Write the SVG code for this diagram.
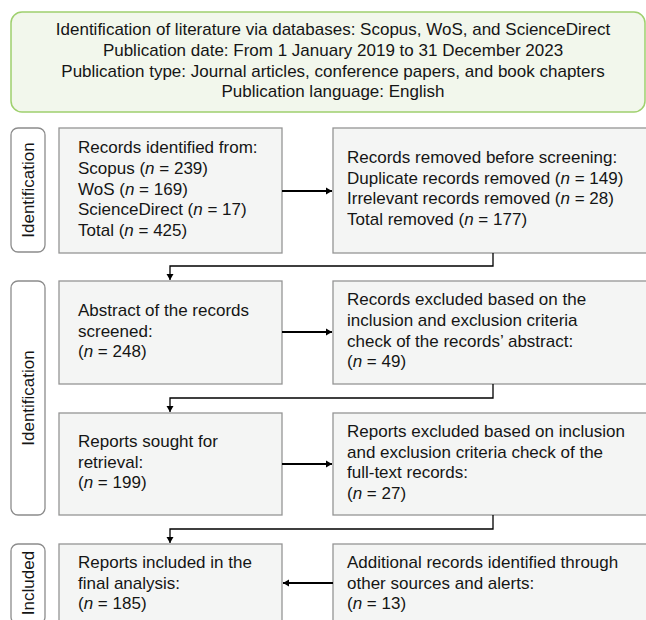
<svg xmlns="http://www.w3.org/2000/svg" width="646" height="620" viewBox="0 0 646 620">
<defs>
<style>
text{font-family:"Liberation Sans",Arial,sans-serif;font-size:17px;fill:#151515}
.c{text-anchor:middle}
.hdr{fill:#f2f7ec;stroke:#9fd06e;stroke-width:1.5}
.box{fill:#f4f5f4;stroke:#959595;stroke-width:1.3}
.lane{fill:#ffffff;stroke:#8c8c8c;stroke-width:1.3}
.arr{fill:none;stroke:#000;stroke-width:2}
.elb{fill:none;stroke:#000;stroke-width:1.3}
i,.it{font-style:italic}
</style>
<marker id="ah" markerWidth="8" markerHeight="8" refX="6" refY="4" orient="auto" markerUnits="userSpaceOnUse">
<path d="M0,0.5 L6,4 L0,7.5 Z" fill="#000"/>
</marker>
</defs>

<g id="header">
<rect class="hdr" x="11" y="12" width="634" height="100" rx="11"/>
<text class="c" x="333" y="35">Identification of literature via databases: Scopus, WoS, and ScienceDirect</text>
<text class="c" x="333" y="55.8">Publication date: From 1 January 2019 to 31 December 2023</text>
<text class="c" x="333" y="76.6">Publication type: Journal articles, conference papers, and book chapters</text>
<text class="c" x="333" y="97.4">Publication language: English</text>
</g>

<g id="lane1">
<rect class="lane" x="11" y="128" width="34" height="124" rx="7"/>
<text class="c" transform="translate(33.5,190) rotate(-90)">Identification</text>
</g>
<g id="lane2">
<rect class="lane" x="11" y="281" width="34" height="234" rx="7"/>
<text class="c" transform="translate(33.5,398) rotate(-90)">Identification</text>
</g>
<g id="lane3">
<rect class="lane" x="11" y="544" width="34" height="80" rx="7"/>
<text class="c" transform="translate(33.5,583) rotate(-90)">Included</text>
</g>

<g id="identified">
<rect class="box" x="59" y="128" width="223" height="125"/>
<text x="78" y="153">Records identified from:</text>
<text x="78" y="173.8">Scopus (<tspan class="it">n</tspan> = 239)</text>
<text x="78" y="194.6">WoS (<tspan class="it">n</tspan> = 169)</text>
<text x="78" y="215.4">ScienceDirect (<tspan class="it">n</tspan> = 17)</text>
<text x="78" y="236.2">Total (<tspan class="it">n</tspan> = 425)</text>
</g>

<g id="removed">
<rect class="box" x="333" y="128" width="316" height="125"/>
<text x="347" y="162.7">Records removed before screening:</text>
<text x="347" y="183.5">Duplicate records removed (<tspan class="it">n</tspan> = 149)</text>
<text x="347" y="204.3">Irrelevant records removed (<tspan class="it">n</tspan> = 28)</text>
<text x="347" y="225.1">Total removed (<tspan class="it">n</tspan> = 177)</text>
</g>

<g id="screened">
<rect class="box" x="59" y="281" width="223" height="103"/>
<text x="78" y="315.7">Abstract of the records</text>
<text x="78" y="336.5">screened:</text>
<text x="78" y="357.3">(<tspan class="it">n</tspan> = 248)</text>
</g>

<g id="excluded-abstract">
<rect class="box" x="333" y="281" width="316" height="103"/>
<text x="347" y="305">Records excluded based on the</text>
<text x="347" y="325.8">inclusion and exclusion criteria</text>
<text x="347" y="346.6">check of the records’ abstract:</text>
<text x="347" y="367.4">(<tspan class="it">n</tspan> = 49)</text>
</g>

<g id="sought">
<rect class="box" x="59" y="413" width="223" height="102"/>
<text x="78" y="446.7">Reports sought for</text>
<text x="78" y="467.5">retrieval:</text>
<text x="78" y="488.3">(<tspan class="it">n</tspan> = 199)</text>
</g>

<g id="excluded-fulltext">
<rect class="box" x="333" y="413" width="316" height="102"/>
<text x="347" y="436.7">Reports excluded based on inclusion</text>
<text x="347" y="457.5">and exclusion criteria check of the</text>
<text x="347" y="478.3">full-text records:</text>
<text x="347" y="499.1">(<tspan class="it">n</tspan> = 27)</text>
</g>

<g id="included">
<rect class="box" x="59" y="544" width="223" height="82"/>
<text x="78" y="567.7">Reports included in the</text>
<text x="78" y="588.5">final analysis:</text>
<text x="78" y="609.3">(<tspan class="it">n</tspan> = 185)</text>
</g>

<g id="additional">
<rect class="box" x="333" y="544" width="316" height="82"/>
<text x="347" y="567.7">Additional records identified through</text>
<text x="347" y="588.5">other sources and alerts:</text>
<text x="347" y="609.3">(<tspan class="it">n</tspan> = 13)</text>
</g>

<g id="connectors">
<path class="arr" d="M282,191 H332" marker-end="url(#ah)"/>
<path class="elb" d="M493,253 V266 H170 V280" marker-end="url(#ah)"/>
<path class="arr" d="M282,332 H332" marker-end="url(#ah)"/>
<path class="elb" d="M493,384 V398 H170 V412" marker-end="url(#ah)"/>
<path class="arr" d="M282,464 H332" marker-end="url(#ah)"/>
<path class="elb" d="M493,515 V529 H170 V543" marker-end="url(#ah)"/>
<path class="arr" d="M333,583 H283" marker-end="url(#ah)"/>
</g>
</svg>
